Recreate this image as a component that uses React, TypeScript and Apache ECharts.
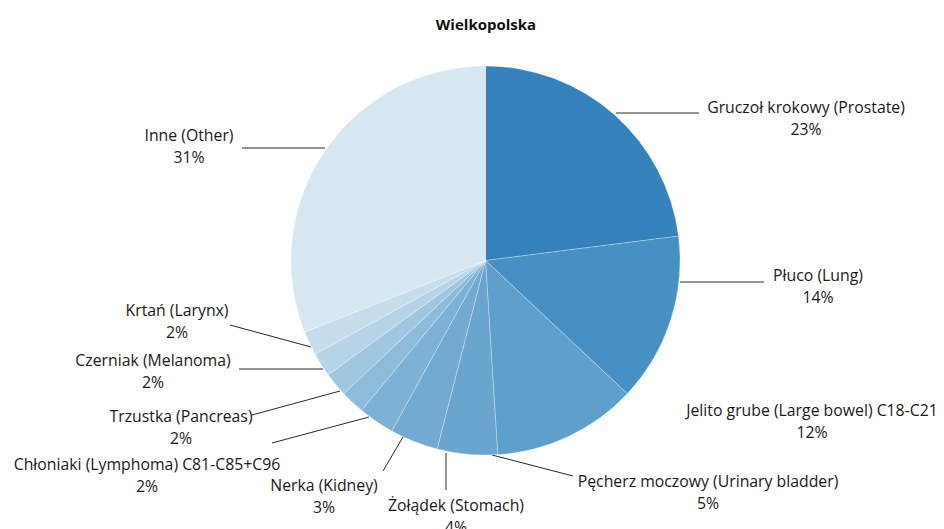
import React, { useEffect, useRef } from "react";
import * as echarts from "echarts";

const title = "Wielkopolska";
const names = [
  "Gruczoł krokowy (Prostate)",
  "Płuco (Lung)",
  "Jelito grube (Large bowel) C18-C21",
  "Pęcherz moczowy (Urinary bladder)",
  "Żołądek (Stomach)",
  "Nerka (Kidney)",
  "Chłoniaki (Lymphoma) C81-C85+C96",
  "Trzustka (Pancreas)",
  "Czerniak (Melanoma)",
  "Krtań (Larynx)",
  "Inne (Other)",
];
const values = [23, 14, 12, 5, 4, 3, 2, 2, 2, 2, 31];
const colors = [
  "#3481BB", "#4690C4", "#5E9FCB", "#69A5CE", "#72AAD1", "#7DB1D5",
  "#8DBBDA", "#A0C6E0", "#B6D3E7", "#C8DDEC", "#D7E7F2",
];

// label layout (annotation positions): label centre and leader line
const labelPos: [number, number][] = [
  [806, 118], [818, 286], [812, 421], [708, 492], [456, 516], [324, 496],
  [147, 475], [181, 427], [153, 371], [177, 321], [189, 146],
];
const leader: ([number, number][] | null)[] = [
  [[616, 113], [699, 113]],
  [[680, 282], [764, 282]],
  null,
  [[492, 455], [573, 476]],
  [[446, 453], [446, 490]],
  [[403, 437], [383, 471]],
  [[369, 417], [272, 443]],
  [[340, 391], [252, 415]],
  [[323, 369], [239, 369]],
  [[311, 347], [230, 325]],
  [[325, 148], [242, 148]],
];

export default function App() {
  const ref = useRef<HTMLDivElement>(null);
  useEffect(() => {
    const chart = echarts.init(ref.current!, null, { renderer: "svg" });
    chart.setOption({
      animation: false,
      backgroundColor: "#ffffff",
      graphic: [
        {
          type: "text",
          x: 486,
          y: 24,
          style: {
            text: title,
            align: "center",
            verticalAlign: "middle",
            fontFamily: "Open Sans",
            fontSize: 15,
            fontWeight: "bold",
            fill: "#111",
          },
        },
      ],
      series: [
        {
          type: "pie",
          center: [485.5, 260.5],
          radius: 194.5,
          startAngle: 90,
          clockwise: true,
          avoidLabelOverlap: false,
          itemStyle: { borderColor: "rgba(255,255,255,0.55)", borderWidth: 0.5 },
          label: {
            show: true,
            position: "outside",
            formatter: "{b}\n{c}%",
            fontFamily: "Open Sans",
            fontSize: 15.8,
            lineHeight: 22,
            color: "#1a1a1a",
            align: "center",
          },
          labelLine: { show: true, lineStyle: { color: "#2a2a2a", width: 1 } },
          emphasis: { disabled: true },
          labelLayout: (p: any) => {
            const i = p.dataIndex;
            const pos = labelPos[i];
            const ln = leader[i];
            const res: any = { x: pos[0], y: pos[1], align: "center", verticalAlign: "middle" };
            if (ln) res.labelLinePoints = [ln[0], ln[1], ln[1]];
            return res;
          },
          data: names.map((n, i) => ({
            name: n,
            value: values[i],
            itemStyle: { color: colors[i] },
            labelLine: { show: leader[i] !== null },
          })),
        },
      ],
    });
    return () => chart.dispose();
  }, []);
  return <div ref={ref} style={{ position: "fixed", left: 0, top: 0, width: 944, height: 529 }} />;
}
